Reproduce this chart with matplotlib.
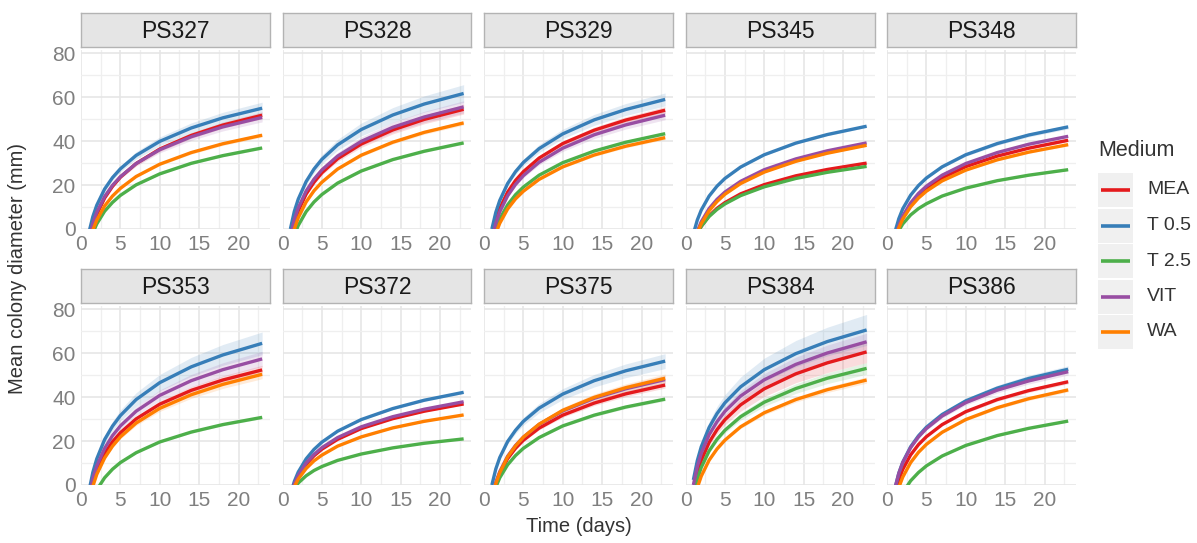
import numpy as np
import matplotlib.pyplot as plt
from matplotlib.patches import Rectangle

plt.rcParams['font.family'] = ['Liberation Sans', 'DejaVu Sans']

# sampling days of the fitted growth curves
days = [1, 1.5, 2, 3, 4, 5, 7, 10, 14, 18, 23]
media = ['MEA', 'T 0.5', 'T 2.5', 'VIT', 'WA']
colors = ['#E41A1C', '#377EB8', '#4DAF4A', '#984EA3', '#FF7F00']
isolates = ['PS327', 'PS328', 'PS329', 'PS345', 'PS348',
            'PS353', 'PS372', 'PS375', 'PS384', 'PS386']

# mean colony diameter (mm) per medium
ps327 = {'MEA':   [-6.2, 1.3, 6.6, 14.1, 19.4, 23.6, 29.8, 36.4, 42.6, 47.3, 51.8],
         'T 0.5': [-1.7, 5.6, 10.8, 18.2, 23.4, 27.4, 33.5, 39.9, 46.0, 50.6, 55.0],
         'T 2.5': [-7.5, -1.8, 2.3, 8.1, 12.1, 15.3, 20.1, 25.1, 29.9, 33.4, 36.9],
         'VIT':   [-4.6, 2.5, 7.6, 14.8, 19.9, 23.8, 29.8, 36.1, 42.0, 46.5, 50.8],
         'WA':    [-6.9, -0.5, 4.0, 10.5, 15.0, 18.5, 23.9, 29.5, 34.8, 38.8, 42.7]}
ps328 = {'MEA':   [-5.0, 2.7, 8.2, 15.9, 21.3, 25.6, 32.0, 38.7, 45.1, 49.9, 54.5],
         'T 0.5': [0.0, 8.0, 13.6, 21.6, 27.3, 31.7, 38.3, 45.3, 51.9, 56.9, 61.7],
         'T 2.5': [-9.1, -2.8, 1.6, 7.9, 12.3, 15.7, 20.9, 26.4, 31.6, 35.4, 39.2],
         'VIT':   [-3.4, 4.2, 9.6, 17.3, 22.7, 26.9, 33.2, 39.9, 46.3, 51.0, 55.6],
         'WA':    [-7.2, 0.0, 5.1, 12.3, 17.4, 21.3, 27.3, 33.6, 39.5, 44.0, 48.3]}
ps329 = {'MEA':   [-3.3, 4.1, 9.4, 16.8, 22.1, 26.1, 32.3, 38.9, 45.0, 49.6, 54.1],
         'T 0.5': [0.0, 7.6, 13.0, 20.7, 26.1, 30.3, 36.6, 43.3, 49.7, 54.4, 59.0],
         'T 2.5': [-6.4, 0.0, 4.6, 11.0, 15.6, 19.1, 24.5, 30.2, 35.5, 39.5, 43.4],
         'VIT':   [-4.7, 2.6, 7.8, 15.1, 20.3, 24.3, 30.4, 36.8, 42.9, 47.4, 51.8],
         'WA':    [-8.5, -2.0, 2.6, 9.1, 13.7, 17.2, 22.6, 28.3, 33.7, 37.7, 41.6]}
ps345 = {'MEA':   [-6.9, -2.2, 1.2, 6.0, 9.4, 12.0, 16.0, 20.2, 24.2, 27.1, 30.0],
         'T 0.5': [-2.2, 4.1, 8.6, 15.0, 19.5, 23.0, 28.2, 33.8, 39.1, 43.0, 46.8],
         'T 2.5': [-6.6, -2.1, 1.2, 5.7, 8.9, 11.4, 15.2, 19.2, 23.0, 25.8, 28.5],
         'VIT':   [-6.9, -1.0, 3.3, 9.3, 13.5, 16.8, 21.7, 27.0, 31.9, 35.6, 39.2],
         'WA':    [-7.8, -1.8, 2.4, 8.3, 12.5, 15.8, 20.7, 25.9, 30.8, 34.5, 38.1]}
ps348 = {'MEA':   [-4.8, 1.0, 5.2, 11.0, 15.1, 18.4, 23.2, 28.4, 33.2, 36.8, 40.4],
         'T 0.5': [-1.5, 4.7, 9.2, 15.4, 19.8, 23.2, 28.3, 33.8, 38.9, 42.8, 46.5],
         'T 2.5': [-4.8, -0.7, 2.3, 6.4, 9.3, 11.5, 15.0, 18.6, 22.0, 24.5, 27.0],
         'VIT':   [-4.5, 1.6, 5.9, 11.9, 16.2, 19.5, 24.5, 29.8, 34.8, 38.6, 42.2],
         'WA':    [-5.2, 0.5, 4.5, 10.1, 14.1, 17.2, 21.9, 26.8, 31.5, 35.0, 38.4]}
ps353 = {'MEA':   [-6.3, 1.3, 6.7, 14.3, 19.7, 23.8, 30.1, 36.8, 43.1, 47.8, 52.4],
         'T 0.5': [-3.0, 5.7, 11.9, 20.7, 26.8, 31.6, 38.9, 46.6, 53.8, 59.2, 64.5],
         'T 2.5': [-11.5, -6.1, -2.2, 3.3, 7.2, 10.2, 14.7, 19.6, 24.1, 27.5, 30.8],
         'VIT':   [-5.2, 2.9, 8.6, 16.7, 22.5, 26.9, 33.6, 40.8, 47.5, 52.5, 57.4],
         'WA':    [-8.2, -0.6, 4.8, 12.3, 17.7, 21.9, 28.2, 34.9, 41.1, 45.8, 50.4]}
ps372 = {'MEA':   [-5.5, 0.0, 3.9, 9.4, 13.3, 16.3, 20.8, 25.7, 30.2, 33.6, 36.9],
         'T 0.5': [-4.5, 1.6, 5.9, 11.9, 16.2, 19.5, 24.5, 29.8, 34.8, 38.6, 42.2],
         'T 2.5': [-4.8, -1.5, 0.9, 4.2, 6.6, 8.4, 11.2, 14.1, 16.9, 19.0, 21.0],
         'VIT':   [-5.1, 0.5, 4.4, 10.0, 13.9, 17.0, 21.6, 26.5, 31.1, 34.5, 37.9],
         'WA':    [-5.6, -0.8, 2.7, 7.5, 11.0, 13.6, 17.7, 21.9, 26.0, 29.0, 31.9]}
ps375 = {'MEA':   [-6.1, 0.5, 5.3, 12.0, 16.7, 20.4, 25.9, 31.8, 37.3, 41.5, 45.5],
         'T 0.5': [0.0, 7.3, 12.5, 19.8, 24.9, 29.0, 35.0, 41.4, 47.5, 52.0, 56.4],
         'T 2.5': [-6.9, -1.0, 3.3, 9.2, 13.4, 16.7, 21.6, 26.9, 31.8, 35.5, 39.1],
         'VIT':   [-5.8, 1.2, 6.1, 13.1, 18.0, 21.8, 27.6, 33.7, 39.5, 43.8, 48.0],
         'WA':    [-6.5, 0.6, 5.6, 12.8, 17.8, 21.8, 27.7, 34.0, 39.9, 44.3, 48.6]}
ps384 = {'MEA':   [-2.8, 5.4, 11.2, 19.4, 25.2, 29.7, 36.5, 43.8, 50.6, 55.6, 60.6],
         'T 0.5': [2.3, 11.1, 17.4, 26.2, 32.5, 37.4, 44.7, 52.5, 59.8, 65.3, 70.6],
         'T 2.5': [-4.8, 2.6, 8.0, 15.5, 20.8, 24.9, 31.1, 37.7, 43.9, 48.6, 53.1],
         'VIT':   [0.0, 8.4, 14.4, 22.9, 28.8, 33.5, 40.5, 47.9, 54.9, 60.1, 65.2],
         'WA':    [-8.4, -1.2, 4.0, 11.3, 16.4, 20.4, 26.5, 32.9, 38.9, 43.4, 47.8]}
ps386 = {'MEA':   [-4.3, 2.3, 7.1, 13.7, 18.4, 22.0, 27.5, 33.4, 38.9, 43.0, 47.0],
         'T 0.5': [-1.6, 5.4, 10.4, 17.4, 22.4, 26.3, 32.1, 38.3, 44.1, 48.5, 52.7],
         'T 2.5': [-12.8, -7.4, -3.5, 1.9, 5.7, 8.7, 13.2, 18.0, 22.5, 25.8, 29.1],
         'VIT':   [-1.6, 5.3, 10.2, 17.0, 21.9, 25.7, 31.4, 37.5, 43.2, 47.4, 51.6],
         'WA':    [-7.6, -1.1, 3.6, 10.2, 14.9, 18.5, 24.0, 29.8, 35.2, 39.3, 43.3]}

# relative half-width of the confidence band (MEA, T 0.5, T 2.5, VIT, WA)
ci327 = [0.03, 0.05, 0.015, 0.04, 0.02]
ci328 = [0.04, 0.065, 0.015, 0.05, 0.02]
ci329 = [0.03, 0.05, 0.02, 0.04, 0.02]
ci345 = [0.01, 0.012, 0.01, 0.01, 0.01]
ci348 = [0.015, 0.02, 0.015, 0.015, 0.015]
ci353 = [0.04, 0.08, 0.02, 0.06, 0.04]
ci372 = [0.01, 0.012, 0.01, 0.01, 0.01]
ci375 = [0.03, 0.06, 0.02, 0.04, 0.04]
ci384 = [0.08, 0.10, 0.05, 0.06, 0.03]
ci386 = [0.02, 0.03, 0.015, 0.03, 0.02]

panels = [ps327, ps328, ps329, ps345, ps348, ps353, ps372, ps375, ps384, ps386]
bands = [ci327, ci328, ci329, ci345, ci348, ci353, ci372, ci375, ci384, ci386]

W, H = 1197, 543
fig = plt.figure(figsize=(W / 100, H / 100), dpi=100)


def box(x, y, w, h):
    return [x / W, 1 - (y + h) / H, w / W, h / H]


tick_col = '#7F7F7F'
for i, (name, data, ci) in enumerate(zip(isolates, panels, bands)):
    row, col = divmod(i, 5)
    left = 81 + col * 201.5
    top = 50 if row == 0 else 306
    ax = fig.add_axes(box(left, top, 189, 179))
    for m, c, r in zip(media, colors, ci):
        v = np.array(data[m])
        half = r * np.clip(v, 0, None)
        ax.fill_between(days, v - half, v + half, color=c, alpha=0.15, lw=0)
        ax.plot(days, v, color=c, lw=2.4, solid_capstyle='butt', solid_joinstyle='round')
    ax.set_xlim(0, 24)
    ax.set_ylim(0, 81.5)
    ax.set_xticks([0, 5, 10, 15, 20])
    ax.set_xticks(np.arange(2.5, 24, 5), minor=True)
    ax.set_yticks([0, 20, 40, 60, 80])
    ax.set_yticks([10, 30, 50, 70], minor=True)
    ax.grid(which='major', color='#E6E6E6', lw=1.2)
    ax.grid(which='minor', color='#EFEFEF', lw=0.9)
    ax.set_axisbelow(True)
    for s in ax.spines.values():
        s.set_visible(False)
    ax.tick_params(which='both', length=0, labelsize=15, labelcolor=tick_col,
                   labelleft=(col == 0), pad=4)

    # facet strip
    sax = fig.add_axes(box(left, top - 37, 189, 34))
    sax.set_facecolor('#E5E5E5')
    sax.set_xticks([])
    sax.set_yticks([])
    for s in sax.spines.values():
        s.set_color('#B3B3B3')
        s.set_linewidth(1.0)
    sax.text(0.5, 0.47, name, ha='center', va='center', fontsize=16.5, color='#1A1A1A',
             transform=sax.transAxes)

fig.text(18 / W, 1 - 268 / H, 'Mean colony diameter (mm)', rotation=90,
         ha='center', va='center', fontsize=14.5, color='#333333')
fig.text(579 / W, 1 - 527 / H, 'Time (days)', ha='center', va='center',
         fontsize=14.5, color='#333333')

# legend
lax = fig.add_axes([0, 0, 1, 1])
lax.set_xlim(0, W)
lax.set_ylim(H, 0)
lax.axis('off')
lax.text(1098, 150, 'Medium', ha='left', va='center', fontsize=15.5, color='#333333')
for k, (m, c) in enumerate(zip(media, colors)):
    yc = 190 + k * 35.5
    lax.add_patch(Rectangle((1098, yc - 17), 35, 34, facecolor='#F0F0F0', edgecolor='none'))
    lax.plot([1101, 1130], [yc, yc], color=c, lw=2.6, solid_capstyle='butt')
    lax.text(1147, yc, m, ha='left', va='center', fontsize=14, color='#333333')

fig.savefig('out.png', dpi=100)
